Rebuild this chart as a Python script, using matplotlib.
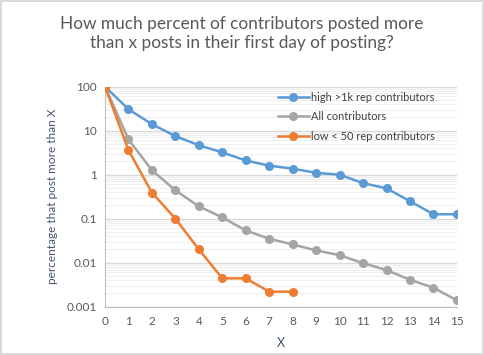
import numpy as np
import matplotlib.pyplot as plt
from matplotlib.ticker import LogLocator, FixedLocator, NullFormatter

plt.rcParams['font.family'] = ['Lato', 'DejaVu Sans']

x_high = list(range(16))
high = [100, 30.6, 14, 7.5, 4.66, 3.2, 2.1, 1.6, 1.37, 1.1, 1.0, 0.64, 0.49, 0.25, 0.126, 0.126]
x_all = list(range(16))
all_c = [100, 6.3, 1.26, 0.44, 0.19, 0.107, 0.054, 0.035, 0.026, 0.019, 0.0148,
         0.0098, 0.0068, 0.0041, 0.0027, 0.0014]
x_low = list(range(9))
low = [100, 3.6, 0.39, 0.10, 0.02, 0.0044, 0.0044, 0.0022, 0.0022]

ytick_vals = [0.001, 0.01, 0.1, 1, 10, 100]
ytick_labels = ['0.001', '0.01', '0.1', '1', '10', '100']

fig = plt.figure(figsize=(4.84, 3.55), dpi=100)
fig.patch.set_edgecolor('#d9d9d9')
fig.patch.set_linewidth(1.5)
ax = fig.add_axes([0.217, 0.136, 0.727, 0.620])

ax.plot(x_high, high, color='#5B9BD5', marker='o', ms=5.5, lw=1.8, label='high >1k rep contributors', zorder=3)
ax.plot(x_all, all_c, color='#A5A5A5', marker='o', ms=5.5, lw=1.8, label='All contributors', zorder=3)
ax.plot(x_low, low, color='#ED7D31', marker='o', ms=5.5, lw=1.8, label='low < 50 rep contributors', zorder=3)

ax.set_yscale('log')
ax.set_ylim(0.001, 100)
ax.set_xlim(0, 15)
ax.yaxis.set_major_locator(FixedLocator(ytick_vals))
ax.set_yticklabels(ytick_labels)
ax.yaxis.set_minor_locator(LogLocator(base=10, subs=np.arange(2, 10)))
ax.yaxis.set_minor_formatter(NullFormatter())
ax.set_xticks(range(16))

ax.grid(True, which='major', axis='y', color='#d9d9d9', lw=1)
ax.grid(True, which='minor', axis='y', color='#efefef', lw=0.8)
ax.tick_params(which='both', length=0, labelsize=8.5, colors='#595959')
ax.tick_params(axis='x', pad=7)
ax.tick_params(axis='y', pad=6)
for s in ['top', 'right']:
    ax.spines[s].set_visible(False)
for s in ['left', 'bottom']:
    ax.spines[s].set_color('#bfbfbf')

ax.set_xlabel('X', fontsize=9, color='#44546A', labelpad=7)
ax.set_ylabel('percentage that post more than X', fontsize=8.5, color='#44546A', labelpad=6)

fig.text(0.5, 0.955, 'How much percent of contributors posted more\nthan x posts in their first day of posting?',
         ha='center', va='top', fontsize=12.4, color='#595959', linespacing=1.25)

ax.legend(loc='upper right', bbox_to_anchor=(0.965, 1.02), frameon=False, fontsize=7.9,
          labelcolor='#404040', handlelength=2.8, handletextpad=0.2, labelspacing=0.75)

fig.savefig('out.png', dpi=100)
